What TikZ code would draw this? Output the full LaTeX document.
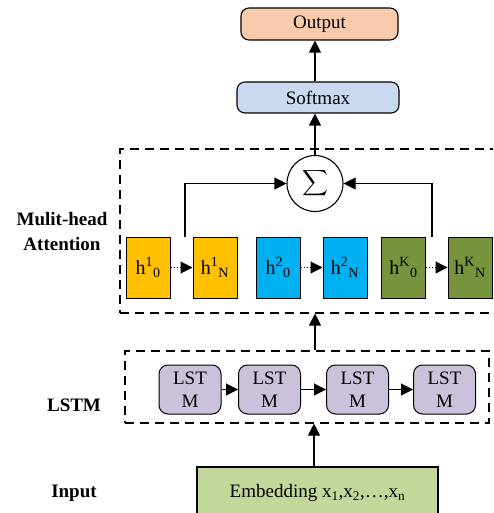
\documentclass[tikz,border=0pt]{standalone}
\usepackage{graphicx}
\usepackage{fontspec}
\setmainfont{Liberation Serif}
\usetikzlibrary{positioning, arrows.meta, calc}
\definecolor{outfill}{HTML}{F8CBAD}
\definecolor{softfill}{HTML}{C9D9F0}
\definecolor{headone}{HTML}{FFC000}
\definecolor{headtwo}{HTML}{00B0F0}
\definecolor{headk}{HTML}{77933C}
\definecolor{lstmfill}{HTML}{CCC1DA}
\definecolor{embfill}{HTML}{C4D79B}

\begin{document}
\begin{tikzpicture}[
    x=1pt, y=-1pt,
    font=\fontsize{19}{23}\selectfont,
    box/.style={rectangle, draw=black, line width=1.1pt, rounded corners=8pt,
                align=center, inner sep=0pt},
    cell/.style={rectangle, draw=black, line width=1pt, minimum width=44pt,
                 minimum height=61pt, inner sep=0pt, font=\fontsize{20}{24}\selectfont},
    lstmcell/.style={rectangle, draw=black, line width=1pt, rounded corners=9pt,
                     fill=lstmfill, minimum width=62pt, minimum height=49pt,
                     align=center, inner sep=0pt},
    group/.style={draw, dash pattern=on 9pt off 6pt, line width=1.1pt, inner sep=0pt},
    arrow/.style={-{Triangle[length=12pt,width=12pt]}, line width=1.1pt},
    label/.style={font=\fontsize{19}{25}\selectfont\bfseries, align=center}
  ]
    \clip (0,0) rectangle (493,513);

    % top: output and softmax
    \node[box, fill=outfill, minimum width=157pt, minimum height=32pt] (output) at (319.5,24) {Output};
    \node[box, fill=softfill, minimum width=162pt, minimum height=31pt] (softmax) at (318,97.5) {Softmax};
    \node[circle, draw, line width=1.1pt, minimum size=56pt, inner sep=0pt]
          (sum) at (315,183.5) {\scalebox{1.8}{$\displaystyle\sum$}};

    % attention heads
    \node[group, minimum width=385pt, minimum height=164pt] (attn) at (312.5,231) {};
    \node[cell, fill=headone] (h10) at (148,267.5) {h\textsuperscript{1}\textsubscript{0}};
    \node[cell, fill=headone] (h1N) at (215,267.5) {h\textsuperscript{1}\textsubscript{N}};
    \node[cell, fill=headtwo] (h20) at (278,267.5) {h\textsuperscript{2}\textsubscript{0}};
    \node[cell, fill=headtwo] (h2N) at (345,267.5) {h\textsuperscript{2}\textsubscript{N}};
    \node[cell, fill=headk] (hK0) at (403.5,267.5) {h\textsuperscript{K}\textsubscript{0}};
    \node[cell, fill=headk] (hKN) at (470,267.5) {h\textsuperscript{K}\textsubscript{N}};
    \coordinate (leftup) at (185,237);
    \coordinate (rightup) at (432,237);

    % lstm chain
    \node[group, minimum width=364pt, minimum height=72pt] (lstmgrp) at (307,387) {};
    \node[lstmcell] (lstm1) at (190,389.5) {LST\\M};
    \node[lstmcell] (lstm2) at (269.5,389.5) {LST\\M};
    \node[lstmcell] (lstm3) at (357.5,389.5) {LST\\M};
    \node[lstmcell] (lstm4) at (444.5,389.5) {LST\\M};

    \node[rectangle, draw, line width=1.1pt, fill=embfill, minimum width=241pt,
          minimum height=52pt, inner sep=0pt] (embed) at (317.5,493)
          {Embedding x\textsubscript{1},x\textsubscript{2},\dots,x\textsubscript{n}};

    % row labels
    \node[label] (attnlabel) at (62,231) {Mulit-head\\Attention};
    \node[label] (lstmlabel) at (74,405) {LSTM};
    \node[label] (inputlabel) at (74,493) {Input};

    \draw[arrow] (softmax.north -| sum) -- (output.south -| sum);
    \draw[arrow] (sum) -- (softmax.south -| sum);
    \draw[arrow] (leftup) |- (sum.west);
    \draw[arrow] (rightup) |- (sum.east);
    \draw[arrow, dotted] (h10) -- (h1N);
    \draw[arrow, dotted] (h20) -- (h2N);
    \draw[arrow, dotted] (hK0) -- (hKN);
    \draw[arrow] (lstmgrp.north -| sum) -- (attn.south -| sum);
    \draw[arrow] (lstm1) -- (lstm2);
    \draw[arrow] (lstm2) -- (lstm3);
    \draw[arrow] (lstm3) -- (lstm4);
    \draw[arrow] (embed.north -| 314,0) -- (lstmgrp.south -| 314,0);
  \end{tikzpicture}
\end{document}
